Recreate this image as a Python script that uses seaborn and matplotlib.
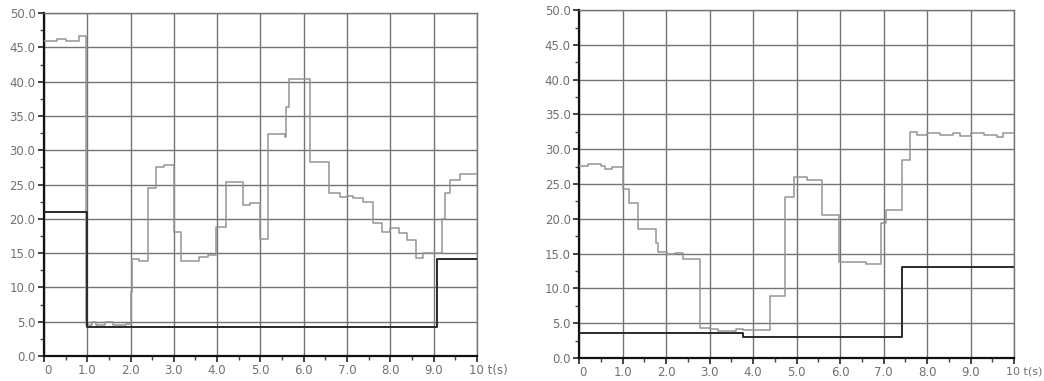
import numpy as np
import pandas as pd
import matplotlib
matplotlib.use("Agg")
import matplotlib.pyplot as plt
import matplotlib.transforms as mtransforms
from matplotlib.ticker import MultipleLocator
import seaborn as sns

# ---------------- data ----------------
left_gray_t = [0, 0.3, 0.5, 0.8, 0.97, 1.1, 1.2, 1.4, 1.6, 1.9, 2.0, 2.03, 2.2, 2.4, 2.58, 2.78,
               3.0, 3.17, 3.57, 3.8, 3.97, 4.2, 4.6, 4.75, 4.98, 5.17, 5.57, 5.6, 5.65, 6.14,
               6.58, 6.83, 7.0, 7.14, 7.37, 7.6, 7.8, 8.0, 8.2, 8.38, 8.6, 8.76, 9.2, 9.25,
               9.38, 9.6, 10.0]
left_gray_v = [46.0, 46.2, 45.9, 46.6, 4.5, 4.9, 4.5, 4.9, 4.5, 4.7, 9.3, 14.2, 13.8, 24.5, 27.5, 27.9,
               18.1, 13.8, 14.5, 14.8, 18.8, 25.4, 22.0, 22.3, 17.0, 32.3, 31.9, 36.3, 40.4, 28.3,
               23.8, 23.2, 23.4, 23.0, 22.4, 19.4, 18.1, 18.6, 17.9, 16.9, 14.3, 15.0, 20.0, 23.8,
               25.7, 26.5, 26.5]
left_dark_t = [0, 1.0, 9.07, 10.0]
left_dark_v = [21.0, 4.3, 14.1, 14.1]

right_gray_t = [0, 0.2, 0.5, 0.6, 0.75, 1.01, 1.15, 1.36, 1.77, 1.82, 2.02, 2.2, 2.4, 2.78,
                3.0, 3.2, 3.6, 3.77, 4.39, 4.74, 4.95, 5.24, 5.58, 5.98, 6.6, 6.94, 7.05, 7.43,
                7.6, 7.77, 8.0, 8.3, 8.6, 8.75, 9.0, 9.3, 9.6, 9.75, 10.0]
right_gray_v = [27.6, 27.9, 27.6, 27.2, 27.5, 24.3, 22.3, 18.5, 16.5, 15.3, 14.9, 15.1, 14.3, 4.3,
                4.1, 3.9, 4.1, 4.0, 8.9, 23.1, 26.0, 25.6, 20.5, 13.8, 13.5, 19.4, 21.2, 28.4,
                32.5, 32.0, 32.3, 32.0, 32.4, 31.9, 32.3, 32.0, 31.8, 32.3, 32.3]
right_dark_t = [0, 3.77, 7.43, 10.0]
right_dark_v = [3.6, 3.0, 13.1, 13.1]

x_ticks = [0, 1, 2, 3, 4, 5, 6, 7, 8, 9, 10]
x_labels = ["0", "1.0", "2.0", "3.0", "4.0", "5.0", "6.0", "7.0", "8.0", "9.0", "10 t(s)"]
y_ticks = [0, 5, 10, 15, 20, 25, 30, 35, 40, 45, 50]
y_labels = ["0.0", "5.0", "10.0", "15.0", "20.0", "25.0", "30.0", "35.0", "40.0", "45.0", "50.0"]

# ---------------- style ----------------
sns.set_theme(style="white")
plt.rcParams['font.family'] = ['DejaVu Sans']

fig = plt.figure(figsize=(10.44, 3.81), dpi=100)
ax1 = fig.add_axes([0.042, 0.0656, 0.415, 0.90])
ax2 = fig.add_axes([0.5546, 0.0604, 0.4167, 0.913])

grid_col = "#747474"
gray_col = "#949494"
dark_col = "#2a2a2a"
label_col = "#707070"

def draw(ax, gt, gv, dt, dv):
    dg = pd.DataFrame({"t": gt, "v": gv})
    dd = pd.DataFrame({"t": dt, "v": dv})
    sns.lineplot(data=dg, x="t", y="v", ax=ax, drawstyle="steps-post",
                 color=gray_col, lw=1.1, estimator=None, zorder=3)
    sns.lineplot(data=dd, x="t", y="v", ax=ax, drawstyle="steps-post",
                 color=dark_col, lw=1.4, estimator=None, zorder=4)
    ax.set_xlim(0, 10)
    ax.set_ylim(0, 50)
    ax.set_xlabel("")
    ax.set_ylabel("")
    ax.set_xticks(x_ticks)
    ax.set_xticklabels(x_labels)
    ax.set_yticks(y_ticks)
    ax.set_yticklabels(y_labels)
    ax.xaxis.set_minor_locator(MultipleLocator(0.5))
    ax.yaxis.set_minor_locator(MultipleLocator(2.5))
    ax.grid(True, which="major", color=grid_col, lw=1.0, zorder=1)
    ax.set_axisbelow(True)
    for s in ["top", "right"]:
        ax.spines[s].set_visible(True)
        ax.spines[s].set_color(grid_col)
        ax.spines[s].set_linewidth(1.0)
    for s in ["left", "bottom"]:
        ax.spines[s].set_color("#111111")
        ax.spines[s].set_linewidth(1.6)
    ax.tick_params(axis="both", which="major", direction="out", length=4, width=1.2,
                   color="#222222", labelsize=8.5, labelcolor=label_col, pad=2,
                   left=True, bottom=True)
    ax.tick_params(axis="both", which="minor", direction="out", length=3, width=1.0,
                   color="#444444", left=True, bottom=True)
    labels = ax.get_xticklabels()
    last = labels[-1]
    last.set_horizontalalignment("left")
    last.set_transform(last.get_transform() +
                       mtransforms.ScaledTranslation(-6 / 72, 0, fig.dpi_scale_trans))
    first = labels[0]
    first.set_transform(first.get_transform() +
                        mtransforms.ScaledTranslation(3 / 72, 0, fig.dpi_scale_trans))
    ax.set_facecolor("white")

draw(ax1, left_gray_t, left_gray_v, left_dark_t, left_dark_v)
draw(ax2, right_gray_t, right_gray_v, right_dark_t, right_dark_v)
ax2.get_xticklabels()[-1].set_fontsize(8)

fig.savefig("out.png", dpi=100, facecolor="white")
